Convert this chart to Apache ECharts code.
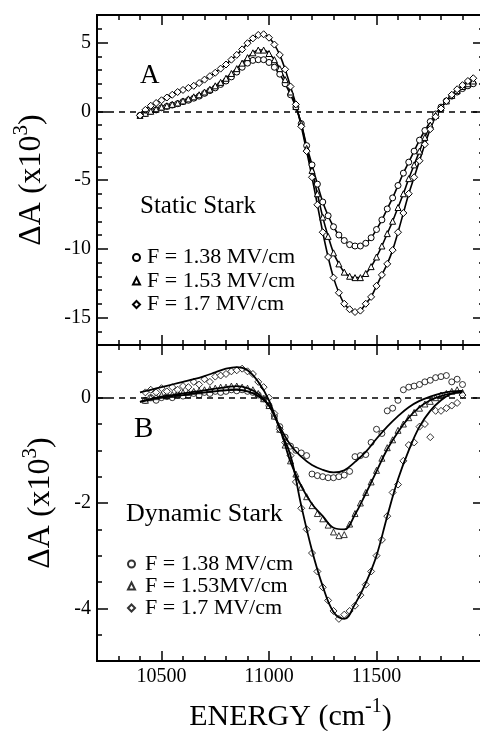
<!DOCTYPE html>
<html>
<head>
<meta charset="utf-8">
<script src="https://cdn.jsdelivr.net/npm/echarts@6/dist/echarts.min.js"></script>
<style>
  html, body { margin: 0; padding: 0; background: #fff; }
  #chart { width: 480px; height: 731px; }
</style>
</head>
<body>
<div id="chart"></div>
<script>
// panel A: static Stark, fit lines with markers on them
const energyA = [10400, 10425, 10450, 10475, 10500, 10525, 10550, 10575, 10600, 10625,
  10650, 10675, 10700, 10725, 10750, 10775, 10800, 10825, 10850, 10875,
  10900, 10925, 10950, 10975, 11000, 11025, 11050, 11075, 11100, 11125,
  11150, 11175, 11200, 11225, 11250, 11275, 11300, 11325, 11350, 11375,
  11400, 11425, 11450, 11475, 11500, 11525, 11550, 11575, 11600, 11625,
  11650, 11675, 11700, 11725, 11750, 11775, 11800, 11825, 11850, 11875,
  11900, 11925, 11950]
const staticF138 = [-0.3, -0.15, 0.0, 0.1, 0.25, 0.35, 0.45, 0.55, 0.7, 0.8,
  0.95, 1.1, 1.3, 1.5, 1.7, 1.95, 2.2, 2.5, 2.85, 3.2,
  3.5, 3.7, 3.75, 3.75, 3.55, 3.2, 2.7, 2.0, 1.2, 0.3,
  -0.9, -2.5, -3.9, -5.3, -6.6, -7.6, -8.4, -9.0, -9.4, -9.7,
  -9.8, -9.8, -9.6, -9.2, -8.6, -7.9, -7.1, -6.3, -5.4, -4.5,
  -3.7, -2.9, -2.1, -1.4, -0.75, -0.2, 0.3, 0.75, 1.1, 1.4,
  1.65, 1.85, 2.0]
const staticF153 = [-0.3, -0.15, 0.0, 0.15, 0.3, 0.4, 0.5, 0.6, 0.75, 0.9,
  1.05, 1.2, 1.4, 1.6, 1.85, 2.1, 2.4, 2.75, 3.1, 3.5,
  3.9, 4.25, 4.45, 4.45, 4.2, 3.75, 3.1, 2.3, 1.4, 0.35,
  -0.9, -2.7, -4.3, -6.0, -7.7, -9.1, -10.3, -11.1, -11.7, -12.0,
  -12.1, -12.1, -11.8, -11.3, -10.6, -9.8, -8.9, -8.0, -7.0, -6.0,
  -4.9, -3.9, -2.9, -1.9, -1.0, -0.3, 0.25, 0.75, 1.15, 1.5,
  1.8, 2.0, 2.2]
const staticF170 = [-0.3, 0.1, 0.4, 0.6, 0.8, 1.0, 1.2, 1.4, 1.55, 1.7,
  1.85, 2.05, 2.3, 2.55, 2.8, 3.1, 3.4, 3.75, 4.1, 4.5,
  4.95, 5.3, 5.55, 5.6, 5.35, 4.85, 4.1, 3.05, 1.8, 0.5,
  -1.1, -2.9, -4.8, -6.8, -8.8, -10.6, -12.1, -13.2, -14.0, -14.4,
  -14.6, -14.5, -14.0, -13.5, -12.7, -11.9, -11.1, -10.1, -8.8, -7.4,
  -6.0, -4.8, -3.6, -2.4, -1.3, -0.4, 0.2, 0.75, 1.2, 1.6,
  1.9, 2.2, 2.4]

// panel B: dynamic Stark, fit lines
const energyFitB = [10400, 10450, 10500, 10550, 10600, 10650, 10700, 10750, 10800, 10850,
  10900, 10950, 11000, 11050, 11100, 11150, 11200, 11250, 11300, 11350,
  11400, 11450, 11500, 11550, 11600, 11650, 11700, 11750, 11800, 11850, 11900]
const dynFitF138 = [-0.08, -0.03, 0.0, 0.03, 0.05, 0.08, 0.1, 0.12, 0.14, 0.15,
  0.12, 0.03, -0.15, -0.55, -0.9, -1.12, -1.28, -1.37, -1.42, -1.38,
  -1.22, -1.03, -0.78, -0.55, -0.35, -0.18, -0.06, 0.02, 0.08, 0.12, 0.13]
const dynFitF153 = [-0.08, -0.03, 0.02, 0.05, 0.08, 0.11, 0.14, 0.17, 0.2, 0.22,
  0.18, 0.07, -0.15, -0.58, -1.22, -1.68, -2.02, -2.25, -2.47, -2.5,
  -2.22, -1.82, -1.4, -0.98, -0.65, -0.38, -0.18, -0.05, 0.03, 0.08, 0.1]
const dynFitF170 = [0.1, 0.15, 0.2, 0.25, 0.3, 0.35, 0.41, 0.48, 0.55, 0.58,
  0.52, 0.3, -0.05, -0.6, -1.1, -2.05, -2.9, -3.58, -4.07, -4.2,
  -3.92, -3.52, -3.0, -2.25, -1.55, -1.0, -0.55, -0.25, -0.05, 0.08, 0.13]

// panel B: measured points
const energyPtsB = [10425, 10450, 10475, 10500, 10525, 10550, 10575, 10600, 10625, 10650,
  10675, 10700, 10725, 10750, 10775, 10800, 10825, 10850, 10875, 10900,
  10925, 10950, 10975, 11000, 11025, 11050, 11075, 11100, 11125, 11150,
  11175, 11200, 11225, 11250, 11275, 11300, 11325, 11350, 11375, 11400,
  11425, 11450, 11475, 11500, 11525, 11550, 11575, 11600, 11625, 11650,
  11675, 11700, 11725, 11750, 11775, 11800, 11825, 11850, 11875, 11900]
const dynPtsF138 = [-0.05, 0.0, -0.05, 0.0, 0.02, 0.0, 0.05, 0.03, 0.05, 0.08,
  0.05, 0.1, 0.08, 0.12, 0.1, 0.12, 0.15, 0.13, 0.15, 0.12,
  0.1, 0.05, -0.02, -0.15, -0.35, -0.55, -0.75, -0.92, -1.0, -1.05,
  -1.1, -1.45, -1.48, -1.5, -1.52, -1.52, -1.5, -1.47, -1.4, -1.12,
  -1.1, -1.08, -0.85, -0.6, -0.68, -0.25, -0.2, -0.05, 0.15, 0.2,
  0.22, 0.25, 0.3, 0.33, 0.38, 0.4, 0.42, 0.3, 0.35, 0.25]
const dynPtsF153 = [-0.05, 0.0, 0.02, 0.05, 0.04, 0.06, 0.08, 0.1, 0.1, 0.12,
  0.13, 0.15, 0.16, 0.18, 0.2, 0.2, 0.22, 0.22, 0.2, 0.18,
  0.15, 0.08, -0.02, -0.15, -0.35, -0.6, -0.9, -1.2, -1.45, -1.7,
  -1.88, -2.05, -2.2, -2.3, -2.42, -2.55, -2.62, -2.6, -2.4, -2.2,
  -2.0, -1.8, -1.6, -1.38, -1.15, -0.95, -0.8, -0.62, -0.5, -0.38,
  -0.28, -0.2, -0.12, -0.07, 0.0, 0.05, 0.08, 0.12, 0.15, 0.1]
const dynPtsF170 = [0.1, 0.15, 0.1, 0.18, 0.12, 0.2, 0.15, 0.22, 0.2, 0.3,
  0.25, 0.35, 0.3, 0.4, 0.42, 0.45, 0.5, 0.52, 0.55, 0.5,
  0.45, 0.3, 0.2, 0.0, -0.3, -0.6, -0.85, -1.1, -1.6, -2.1,
  -2.5, -2.95, -3.3, -3.6, -3.85, -4.05, -4.2, -4.12, -4.05, -3.95,
  -3.75, -3.55, -3.3, -3.0, -2.7, -2.25, -1.8, -1.65, -1.2, -0.9,
  -0.85, -0.55, -0.5, -0.75, -0.25, -0.25, -0.2, -0.15, -0.1, 0.05]

// ticks
const energyMajor = [10500, 11000, 11500]
const staticMajor = [-15, -10, -5, 0, 5]
const dynMajor = [-4, -2, 0]

const serif = 'Liberation Serif'
const black = '#000'
const markerStyle = { color: '#fff', borderColor: black, borderWidth: 1 }

const pairs = (xs, ys) => xs.map((x, i) => [x, ys[i]])

const supName = (size) => ({
  rich: {
    a: { fontFamily: serif, fontSize: size, color: black, lineHeight: size + 10 },
    s: { fontFamily: serif, fontSize: Math.round(size * 0.65), color: black, verticalAlign: 'top', lineHeight: Math.round(size * 0.6) }
  }
})

const tickLabel = (values) => ({
  show: true,
  customValues: values,
  margin: 6,
  color: black,
  fontFamily: serif,
  fontSize: 20,
  formatter: (v) => String(v)
})

const xAxisDef = (grid, pos, major, opts) => Object.assign({
  type: 'value',
  gridIndex: grid,
  position: pos,
  min: 10200,
  max: 12000,
  interval: 100,
  axisLine: { show: true, onZero: false, lineStyle: { color: black, width: 2 } },
  axisTick: major
    ? { show: true, inside: true, length: 10, customValues: energyMajor, lineStyle: { color: black, width: 1.5 } }
    : { show: true, inside: true, length: 5, lineStyle: { color: black, width: 1.5 } },
  axisLabel: { show: false },
  splitLine: { show: false }
}, opts || {})

const yAxisDef = (grid, pos, major, min, max, step, majors, opts) => Object.assign({
  type: 'value',
  gridIndex: grid,
  position: pos,
  min: min,
  max: max,
  interval: step,
  axisLine: { show: true, onZero: false, lineStyle: { color: black, width: 2 } },
  axisTick: major
    ? { show: true, inside: true, length: 11, customValues: majors, lineStyle: { color: black, width: 1.5 } }
    : { show: true, inside: true, length: 5, lineStyle: { color: black, width: 1.5 } },
  axisLabel: { show: false },
  splitLine: { show: false }
}, opts || {})

const zeroLine = {
  silent: true,
  symbol: 'none',
  label: { show: false },
  lineStyle: { color: black, type: [6, 5], width: 1.5 },
  data: [{ yAxis: 0 }]
}

const chart = echarts.init(document.getElementById('chart'))

const option = {
  animation: false,
  backgroundColor: '#fff',
  grid: [
    { left: 97, right: -4, top: 15, height: 330, outerBoundsMode: 'none' },
    { left: 97, right: -4, top: 345, height: 316, outerBoundsMode: 'none' }
  ],
  xAxis: [
    xAxisDef(0, 'bottom', false),
    xAxisDef(0, 'bottom', true),
    xAxisDef(0, 'top', false),
    xAxisDef(0, 'top', true),
    xAxisDef(1, 'bottom', false),
    xAxisDef(1, 'bottom', true, {
      axisLabel: tickLabel(energyMajor),
      name: '{a|ENERGY (cm}{s|-1}{a|)}',
      nameLocation: 'middle',
      nameGap: 36,
      nameTextStyle: supName(30)
    }),
    xAxisDef(1, 'top', false),
    xAxisDef(1, 'top', true)
  ],
  yAxis: [
    yAxisDef(0, 'left', false, -17, 7, 1),
    yAxisDef(0, 'left', true, -17, 7, 1, staticMajor, {
      axisLabel: tickLabel(staticMajor),
      name: '{a|ΔA (x10}{s|3}{a|)}',
      nameLocation: 'middle',
      nameRotate: 90,
      nameGap: 44,
      nameTextStyle: supName(32)
    }),
    yAxisDef(0, 'right', false, -17, 7, 1),
    yAxisDef(0, 'right', true, -17, 7, 1, staticMajor),
    yAxisDef(1, 'left', false, -5, 1, 0.5),
    yAxisDef(1, 'left', true, -5, 1, 0.5, dynMajor, {
      axisLabel: tickLabel(dynMajor),
      name: '{a|ΔA (x10}{s|3}{a|)}',
      nameLocation: 'middle',
      nameRotate: 90,
      nameGap: 35,
      nameTextStyle: supName(32)
    }),
    yAxisDef(1, 'right', false, -5, 1, 0.5),
    yAxisDef(1, 'right', true, -5, 1, 0.5, dynMajor)
  ],
  legend: [
    {
      orient: 'vertical', left: 132, top: 246, padding: 0, itemGap: 0.5,
      itemWidth: 7, itemHeight: 7, selectedMode: false,
      textStyle: { fontFamily: serif, fontSize: 22, color: black, lineHeight: 23, padding: [0, 0, 0, 2] },
      data: [
        { name: 'F = 1.38 MV/cm', icon: 'circle' },
        { name: 'F = 1.53 MV/cm', icon: 'triangle' },
        { name: 'F = 1.7 MV/cm', icon: 'diamond' }
      ]
    },
    {
      orient: 'vertical', left: 127, top: 553, padding: 0, itemGap: 0,
      itemWidth: 7, itemHeight: 7, selectedMode: false,
      textStyle: { fontFamily: serif, fontSize: 22, color: black, lineHeight: 22, padding: [0, 0, 0, 5] },
      data: [
        { name: 'F = 1.38 MV/cm ', icon: 'circle' },
        { name: 'F = 1.53MV/cm', icon: 'triangle' },
        { name: 'F = 1.7 MV/cm ', icon: 'diamond' }
      ]
    }
  ],
  graphic: [
    { type: 'text', x: 140, y: 76, style: { text: 'A', font: '27px "Liberation Serif"', fill: black, verticalAlign: 'middle' } },
    { type: 'text', x: 140, y: 206, style: { text: 'Static Stark', font: '25px "Liberation Serif"', fill: black, verticalAlign: 'middle' } },
    { type: 'text', x: 134, y: 429, style: { text: 'B', font: '29px "Liberation Serif"', fill: black, verticalAlign: 'middle' } },
    { type: 'text', x: 126, y: 514, style: { text: 'Dynamic Stark', font: '26px "Liberation Serif"', fill: black, verticalAlign: 'middle' } }
  ],
  series: [
    {
      name: 'F = 1.38 MV/cm', type: 'line', xAxisIndex: 0, yAxisIndex: 0,
      data: pairs(energyA, staticF138), smooth: 0.3,
      symbol: 'circle', symbolSize: 6, itemStyle: markerStyle,
      lineStyle: { color: black, width: 1.6 },
      markLine: zeroLine
    },
    {
      name: 'F = 1.53 MV/cm', type: 'line', xAxisIndex: 0, yAxisIndex: 0,
      data: pairs(energyA, staticF153), smooth: 0.3,
      symbol: 'triangle', symbolSize: 6, itemStyle: markerStyle,
      lineStyle: { color: black, width: 1.6 }
    },
    {
      name: 'F = 1.7 MV/cm', type: 'line', xAxisIndex: 0, yAxisIndex: 0,
      data: pairs(energyA, staticF170), smooth: 0.3,
      symbol: 'diamond', symbolSize: 7, itemStyle: markerStyle,
      lineStyle: { color: black, width: 1.6 }
    },
    {
      name: 'fit 1.38', type: 'line', xAxisIndex: 4, yAxisIndex: 4,
      data: pairs(energyFitB, dynFitF138), smooth: 0.4, showSymbol: false,
      lineStyle: { color: black, width: 1.8 },
      markLine: zeroLine
    },
    {
      name: 'fit 1.53', type: 'line', xAxisIndex: 4, yAxisIndex: 4,
      data: pairs(energyFitB, dynFitF153), smooth: 0.4, showSymbol: false,
      lineStyle: { color: black, width: 1.8 }
    },
    {
      name: 'fit 1.7', type: 'line', xAxisIndex: 4, yAxisIndex: 4,
      data: pairs(energyFitB, dynFitF170), smooth: 0.4, showSymbol: false,
      lineStyle: { color: black, width: 1.8 }
    },
    {
      name: 'F = 1.38 MV/cm ', type: 'scatter', xAxisIndex: 4, yAxisIndex: 4,
      data: pairs(energyPtsB, dynPtsF138), symbol: 'circle', symbolSize: 6, itemStyle: markerStyle
    },
    {
      name: 'F = 1.53MV/cm', type: 'scatter', xAxisIndex: 4, yAxisIndex: 4,
      data: pairs(energyPtsB, dynPtsF153), symbol: 'triangle', symbolSize: 6, itemStyle: markerStyle
    },
    {
      name: 'F = 1.7 MV/cm ', type: 'scatter', xAxisIndex: 4, yAxisIndex: 4,
      data: pairs(energyPtsB, dynPtsF170), symbol: 'diamond', symbolSize: 7, itemStyle: markerStyle
    }
  ]
}

chart.setOption(option)
</script>
</body>
</html>
